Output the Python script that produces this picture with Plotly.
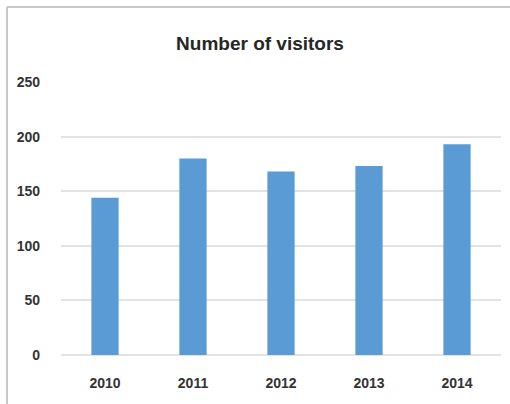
import plotly.graph_objects as go

years = ["2010", "2011", "2012", "2013", "2014"]
visitors = [144, 180, 168, 173, 193]
y_ticks = [0, 50, 100, 150, 200, 250]

W, H = 510, 404
L, R, T, B = 61, 9, 82, 49
pw, ph = W - L - R, H - T - B

def px_x(x):
    return (x - L) / pw

def px_y(y):
    return (H - B - y) / ph

fig = go.Figure(go.Bar(
    x=years, y=visitors,
    marker=dict(color="#5b9bd5", line=dict(width=0)),
    width=0.31,
))

tick_font = dict(family="Liberation Sans, Arial, sans-serif", size=14,
                 color="#333333", weight="bold")

fig.update_layout(
    width=W, height=H,
    margin=dict(l=L, r=R, t=T, b=B, pad=0),
    paper_bgcolor="white", plot_bgcolor="white",
    showlegend=False,
    title=dict(text="<b>Number of visitors</b>", x=px_x(260), xref="paper",
               xanchor="center", y=1 - 43 / H, yanchor="middle",
               font=dict(family="Liberation Sans Narrow, Liberation Sans, sans-serif", size=19, color="#262626")),
    font=dict(family="Liberation Sans, Arial, sans-serif", size=14, color="#333333"),
    xaxis=dict(showgrid=False, showline=False, zeroline=False, ticks="",
               tickfont=tick_font, ticklabelstandoff=18),
    yaxis=dict(range=[0, 250], tickvals=y_ticks, showgrid=True, gridcolor="#e3e3e3",
               gridwidth=1.5, zeroline=True, zerolinecolor="#e3e3e3", zerolinewidth=1.5,
               showline=False, ticks="", ticklabelstandoff=20,
               tickfont=tick_font),
    shapes=[
        dict(type="line", xref="paper", yref="paper",
             x0=px_x(7), x1=px_x(W + 5), y0=px_y(7), y1=px_y(7),
             line=dict(color="#c8c8c8", width=2)),
        dict(type="line", xref="paper", yref="paper",
             x0=px_x(7), x1=px_x(7), y0=px_y(7), y1=px_y(H + 5),
             line=dict(color="#c8c8c8", width=2)),
    ],
)

fig.write_html("out.html")
